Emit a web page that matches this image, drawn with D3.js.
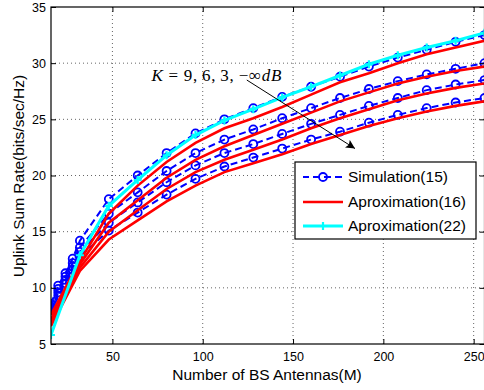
<!DOCTYPE html>
<html>
<head>
<meta charset="utf-8">
<script src="https://cdn.jsdelivr.net/npm/d3@7"></script>
<style>
  body { margin: 0; background: #fff; }
  text { font-family: "Liberation Sans", Arial, Helvetica, sans-serif; }
</style>
</head>
<body>
<svg width="484" height="390"></svg>
<script>
// antenna counts
var mApprox = [16, 32, 48, 64, 80, 96, 112, 128, 144, 160, 176, 192, 208, 224, 240, 256];
var mSim = [16, 20, 24, 28, 32, 48, 64, 80, 96, 112, 128, 144, 160, 176, 192, 208, 224, 240, 256];

// Simulation(15), K = 9, 6, 3, -inf dB
var sim1 = [8.6, 10.2, 11.3, 12.6, 14.2, 17.9, 20.0, 22.0, 23.75, 25.0, 26.0, 27.0, 27.9, 28.8, 29.7, 30.5, 31.2, 31.9, 32.5];
var sim2 = [8.3, 9.9, 11.0, 12.2, 13.6, 16.6, 18.5, 20.4, 22.0, 23.2, 24.1, 25.1, 26.0, 26.9, 27.7, 28.4, 29.0, 29.5, 30.0];
var sim3 = [8.0, 9.6, 10.7, 11.9, 13.2, 15.8, 17.6, 19.4, 20.9, 22.0, 22.8, 23.7, 24.6, 25.4, 26.2, 26.9, 27.6, 28.1, 28.5];
var sim4 = [7.7, 9.3, 10.4, 11.6, 12.8, 15.1, 16.7, 18.3, 19.7, 20.8, 21.6, 22.4, 23.2, 23.9, 24.7, 25.4, 26.0, 26.5, 26.9];

// Aproximation(16)
var apx1 = [7.6, 12.4, 16.6, 19.1, 21.2, 22.9, 24.2, 25.1, 26.1, 27.2, 28.3, 29.1, 30.0, 30.8, 31.4, 32.0];
var apx2 = [7.2, 12.1, 15.8, 17.8, 19.8, 21.4, 22.6, 23.6, 24.6, 25.6, 26.6, 27.4, 28.2, 28.8, 29.3, 29.7];
var apx3 = [6.9, 11.8, 15.0, 16.9, 18.8, 20.3, 21.4, 22.3, 23.2, 24.2, 25.1, 25.9, 26.7, 27.3, 27.8, 28.2];
var apx4 = [6.6, 11.5, 14.3, 16.0, 17.7, 19.1, 20.3, 21.1, 21.9, 22.8, 23.6, 24.4, 25.1, 25.7, 26.2, 26.6];

// Aproximation(22)
var apx22 = [5.8, 12.9, 17.3, 19.6, 21.8, 23.6, 24.9, 25.9, 26.95, 27.9, 28.9, 29.9, 30.7, 31.4, 32.0, 32.7];

var xTicks = [50, 100, 150, 200, 250];
var yTicks = [5, 10, 15, 20, 25, 30, 35];
var legendLabels = ["Simulation(15)", "Aproximation(16)", "Aproximation(22)"];

var svg = d3.select("svg");

var xScale = d3.scaleLinear().domain([16, 256]).range([51, 484.5]);
var yScale = d3.scaleLinear().domain([5, 35]).range([344, 7]);

var x0 = xScale.range()[0], x1 = xScale.range()[1];
var y0 = yScale.range()[1], y1 = yScale.range()[0];

svg.append("defs").append("clipPath").attr("id", "plotclip")
    .append("rect").attr("x", x0).attr("y", y0).attr("width", x1 - x0).attr("height", y1 - y0);

// dotted grid
var grid = svg.append("g");
grid.selectAll("line.gx").data(xTicks).enter().append("line")
    .attr("x1", d => xScale(d)).attr("x2", d => xScale(d))
    .attr("y1", y0).attr("y2", y1)
    .attr("stroke", "#666").attr("stroke-width", 1).attr("stroke-dasharray", "1,3");
grid.selectAll("line.gy").data(yTicks.slice(1, -1)).enter().append("line")
    .attr("y1", d => yScale(d)).attr("y2", d => yScale(d))
    .attr("x1", x0).attr("x2", x1)
    .attr("stroke", "#666").attr("stroke-width", 1).attr("stroke-dasharray", "1,3");

var line = d3.line().x(d => xScale(d[0])).y(d => yScale(d[1]));
var plot = svg.append("g").attr("clip-path", "url(#plotclip)");

function pairs(xs, ys) { return xs.map((m, i) => [m, ys[i]]); }

// simulation curves
[sim1, sim2, sim3, sim4].forEach(function(s) {
    var pts = pairs(mSim, s);
    plot.append("path").attr("d", line(pts))
        .attr("fill", "none").attr("stroke", "#0000ff").attr("stroke-width", 2)
        .attr("stroke-dasharray", "7,4");
    plot.selectAll(null).data(pts).enter().append("circle")
        .attr("cx", d => xScale(d[0])).attr("cy", d => yScale(d[1])).attr("r", 4)
        .attr("fill", "none").attr("stroke", "#0000ff").attr("stroke-width", 1.8);
});

// approximation (16)
[apx1, apx2, apx3, apx4].forEach(function(s) {
    plot.append("path").attr("d", line(pairs(mApprox, s)))
        .attr("fill", "none").attr("stroke", "#ff0000").attr("stroke-width", 2.6);
});

// approximation (22)
var cyanPts = pairs(mApprox, apx22);
plot.append("path").attr("d", line(cyanPts))
    .attr("fill", "none").attr("stroke", "#00ffff").attr("stroke-width", 3);
plot.selectAll(null).data(cyanPts).enter().append("path")
    .attr("transform", d => "translate(" + xScale(d[0]) + "," + yScale(d[1]) + ")")
    .attr("d", "M-4,0H4M0,-4V4")
    .attr("stroke", "#00ffff").attr("stroke-width", 2.2);

// axes, ticks inward
svg.append("g").attr("transform", "translate(0," + y1 + ")")
    .call(d3.axisBottom(xScale).tickValues(xTicks).tickSizeInner(-5).tickSizeOuter(0).tickPadding(8))
    .call(g => g.select(".domain").remove())
    .selectAll("text").style("font-size", "12.5px").attr("fill", "#000");
svg.append("g").attr("transform", "translate(" + x0 + ",0)")
    .call(d3.axisLeft(yScale).tickValues(yTicks).tickSizeInner(-5).tickSizeOuter(0).tickPadding(5))
    .call(g => g.select(".domain").remove())
    .selectAll("text").style("font-size", "12.5px").attr("fill", "#000");
svg.append("g").attr("transform", "translate(0," + y0 + ")")
    .call(d3.axisTop(xScale).tickValues(xTicks).tickSizeInner(-5).tickSizeOuter(0).tickFormat(""))
    .call(g => g.select(".domain").remove());
svg.append("g").attr("transform", "translate(" + x1 + ",0)")
    .call(d3.axisRight(yScale).tickValues(yTicks).tickSizeInner(-5).tickSizeOuter(0).tickFormat(""))
    .call(g => g.select(".domain").remove());

svg.append("rect").attr("x", x0).attr("y", y0).attr("width", x1 - x0).attr("height", y1 - y0)
    .attr("fill", "none").attr("stroke", "#000").attr("stroke-width", 1.2);

// axis titles
svg.append("text").attr("x", 267).attr("y", 380)
    .attr("text-anchor", "middle").style("font-size", "15.5px")
    .text("Number of BS Antennas(M)");
svg.append("text").attr("transform", "translate(19,176) rotate(-90)")
    .attr("text-anchor", "middle").attr("dy", "0.35em").style("font-size", "15.5px")
    .text("Uplink Sum Rate(bits/sec/Hz)");

// annotation
svg.append("defs").append("marker").attr("id", "arrowhead")
    .attr("viewBox", "0 0 10 10").attr("refX", 10).attr("refY", 5)
    .attr("markerWidth", 10).attr("markerHeight", 9).attr("markerUnits", "userSpaceOnUse")
    .attr("orient", "auto")
    .append("path").attr("d", "M0,0L10,5L0,10L2,5Z").attr("fill", "#000");
svg.append("line")
    .attr("x1", xScale(124.4)).attr("y1", yScale(28.5))
    .attr("x2", xScale(184.3)).attr("y2", yScale(22.4))
    .attr("stroke", "#000").attr("stroke-width", 1).attr("marker-end", "url(#arrowhead)");
var ann = svg.append("text").attr("x", xScale(71.6)).attr("y", yScale(28.4))
    .attr("textLength", 130).attr("lengthAdjust", "spacing")
    .style("font-family", "'Liberation Serif', 'DejaVu Serif', serif").style("font-size", "17px");
ann.append("tspan").style("font-style", "italic").text("K");
ann.append("tspan").text(" = 9,\u20096,\u20093,\u2009\u2212\u221e");
ann.append("tspan").style("font-style", "italic").text("dB");

// legend
var lg = svg.append("g");
lg.append("rect").attr("x", 295).attr("y", 162).attr("width", 181).attr("height", 77)
    .attr("fill", "#fff").attr("stroke", "#000").attr("stroke-width", 1.2);
var rowY = [177, 202, 226];
legendLabels.forEach(function(lab, i) {
    var y = rowY[i];
    var ln = lg.append("line").attr("x1", 303).attr("x2", 343).attr("y1", y).attr("y2", y);
    if (i === 0) {
        ln.attr("stroke", "#0000ff").attr("stroke-width", 2).attr("stroke-dasharray", "7,4").attr("stroke-dashoffset", 1);
        lg.append("circle").attr("cx", 323).attr("cy", y).attr("r", 4)
            .attr("fill", "none").attr("stroke", "#0000ff").attr("stroke-width", 1.8);
    } else if (i === 1) {
        ln.attr("stroke", "#ff0000").attr("stroke-width", 2.6);
    } else {
        ln.attr("stroke", "#00ffff").attr("stroke-width", 3);
        lg.append("path").attr("d", "M319," + y + "H327M323," + (y - 4) + "V" + (y + 4))
            .attr("stroke", "#00ffff").attr("stroke-width", 2.2);
    }
    lg.append("text").attr("x", 348).attr("y", y).attr("dy", "0.35em")
        .style("font-size", "15.5px").text(lab);
});
</script>
</body>
</html>
